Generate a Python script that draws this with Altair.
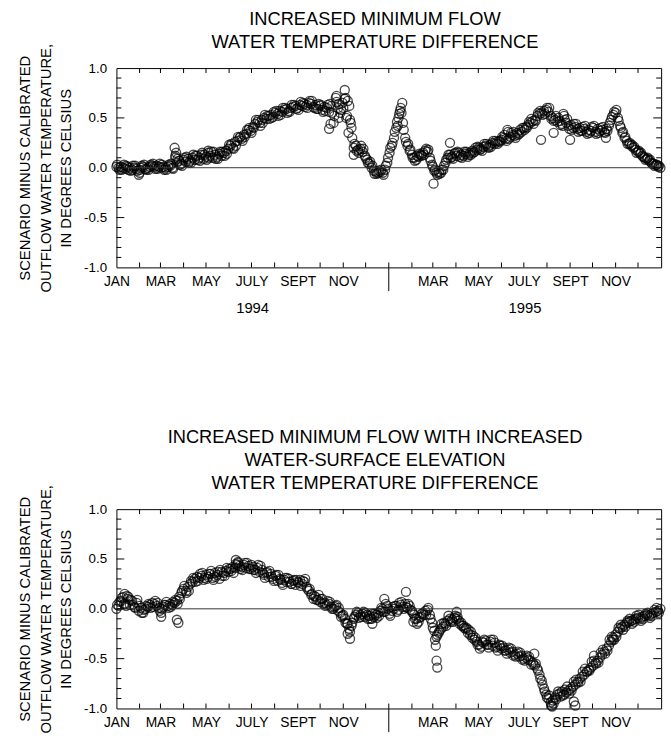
import altair as alt
import pandas as pd

FONT = "Liberation Sans"

# daily record thinned out, counted from 1 January 1994:
# pass A every 3 days, passes B and C every 6 days, interleaved
sample_days = list(range(0, 730, 3))
second_days = list(range(1, 730, 6))
third_days = list(range(4, 730, 6))

top_values = [
    0.01, 0.00, 0.01, 0.00, -0.01, 0.01, 0.00, -0.02, 0.00, -0.01,
    -0.07, 0.00, 0.01, -0.01, 0.00, 0.01, 0.02, 0.01, 0.02, 0.01,
    0.00, 0.01, 0.00, 0.01, 0.02, 0.00, 0.20, 0.05, 0.07, 0.04,
    0.08, 0.06, 0.09, 0.07, 0.10, 0.08, 0.12, 0.10, 0.13, 0.09,
    0.11, 0.15, 0.12, 0.10, 0.13, 0.11, 0.14, 0.12, 0.15, 0.17,
    0.19, 0.22, 0.20, 0.26, 0.27, 0.30, 0.29, 0.33, 0.34, 0.38,
    0.37, 0.41, 0.44, 0.46, 0.45, 0.48, 0.50, 0.49, 0.52, 0.53,
    0.51, 0.55, 0.54, 0.57, 0.56, 0.58, 0.59, 0.57, 0.60, 0.61,
    0.62, 0.60, 0.63, 0.62, 0.64, 0.63, 0.65, 0.64, 0.61, 0.63,
    0.59, 0.62, 0.58, 0.61, 0.60, 0.56, 0.62, 0.45, 0.70, 0.60,
    0.55, 0.65, 0.78, 0.52, 0.62, 0.40, 0.20, 0.22, 0.18, 0.19,
    0.16, 0.12, 0.08, 0.04, 0.00, -0.03, -0.04, -0.05, -0.04, -0.05,
    -0.02, 0.05, 0.15, 0.22, 0.30, 0.40, 0.50, 0.60, 0.45, 0.30,
    0.22, 0.17, 0.13, 0.10, 0.08, 0.11, 0.13, 0.15, 0.17, 0.16,
    0.10, 0.03, -0.03, -0.05, -0.04, -0.05, -0.02, 0.05, 0.10, 0.13,
    0.11, 0.14, 0.12, 0.15, 0.13, 0.12, 0.14, 0.11, 0.15, 0.17,
    0.16, 0.18, 0.20, 0.19, 0.21, 0.22, 0.21, 0.23, 0.25, 0.24,
    0.26, 0.27, 0.28, 0.30, 0.29, 0.36, 0.31, 0.33, 0.32, 0.35,
    0.34, 0.36, 0.40, 0.41, 0.43, 0.45, 0.47, 0.48, 0.52, 0.54,
    0.55, 0.57, 0.58, 0.56, 0.52, 0.50, 0.48, 0.46, 0.47, 0.44,
    0.52, 0.45, 0.42, 0.43, 0.40, 0.41, 0.39, 0.40, 0.37, 0.39,
    0.36, 0.38, 0.37, 0.40, 0.36, 0.39, 0.37, 0.38, 0.36, 0.39,
    0.42, 0.48, 0.53, 0.55, 0.50, 0.42, 0.35, 0.30, 0.27, 0.24,
    0.22, 0.20, 0.18, 0.16, 0.14, 0.12, 0.10, 0.09, 0.07, 0.05,
    0.04, 0.03, 0.01, 0.00,
]
top_second = [
    0.03, -0.02, 0.02, -0.03, 0.02, -0.02, 0.03, -0.02, 0.04, -0.01,
    0.03, -0.02, 0.04, 0.10, 0.03, 0.10, 0.05, 0.13, 0.08, 0.15,
    0.08, 0.16, 0.09, 0.16, 0.12, 0.23, 0.19, 0.31, 0.27, 0.38,
    0.35, 0.48, 0.42, 0.53, 0.49, 0.56, 0.52, 0.60, 0.55, 0.63,
    0.59, 0.66, 0.61, 0.67, 0.60, 0.64, 0.56, 0.63, 0.55, 0.66,
    0.58, 0.70, 0.48, 0.24, 0.15, 0.19, 0.05, 0.02, -0.06, -0.02,
    0.02, 0.20, 0.36, 0.54, 0.38, 0.24, 0.10, 0.12, 0.12, 0.19,
    0.07, -0.02, -0.06, 0.02, 0.13, 0.09, 0.16, 0.10, 0.16, 0.13,
    0.20, 0.18, 0.24, 0.20, 0.27, 0.24, 0.31, 0.27, 0.35, 0.30,
    0.38, 0.38, 0.46, 0.44, 0.55, 0.53, 0.60, 0.49, 0.52, 0.43,
    0.48, 0.39, 0.44, 0.36, 0.41, 0.34, 0.41, 0.34, 0.40, 0.35,
    0.45, 0.56, 0.47, 0.36, 0.24, 0.23, 0.15, 0.15, 0.08, 0.08,
    0.02, 0.02,
]
top_third = [
    -0.02, 0.03, -0.02, 0.02, -0.03, 0.02, -0.02, 0.03, -0.01, 0.04,
    -0.02, 0.03, -0.01, 0.09, 0.02, 0.11, 0.05, 0.12, 0.07, 0.13,
    0.10, 0.16, 0.09, 0.16, 0.14, 0.24, 0.22, 0.31, 0.31, 0.40,
    0.40, 0.48, 0.45, 0.52, 0.50, 0.57, 0.53, 0.60, 0.56, 0.63,
    0.58, 0.65, 0.60, 0.67, 0.59, 0.63, 0.57, 0.64, 0.52, 0.64,
    0.60, 0.67, 0.30, 0.17, 0.22, 0.10, 0.06, -0.06, -0.03, -0.07,
    0.10, 0.25, 0.46, 0.55, 0.26, 0.18, 0.07, 0.14, 0.13, 0.18,
    0.01, -0.07, -0.02, 0.08, 0.10, 0.15, 0.11, 0.16, 0.13, 0.15,
    0.21, 0.17, 0.24, 0.21, 0.27, 0.26, 0.33, 0.29, 0.36, 0.33,
    0.40, 0.40, 0.49, 0.47, 0.57, 0.54, 0.60, 0.47, 0.50, 0.42,
    0.49, 0.38, 0.44, 0.37, 0.42, 0.35, 0.42, 0.35, 0.41, 0.37,
    0.51, 0.58, 0.40, 0.31, 0.25, 0.21, 0.17, 0.11, 0.10, 0.04,
    0.03,
]
top_extra_days = [31, 79, 80, 123, 285, 287, 295, 298, 306, 308, 311, 314,
                  318, 377, 380, 383, 425, 447, 524, 569, 586, 599, 608, 656]
top_extra_values = [-0.05, 0.12, 0.15, 0.17, 0.39, 0.44, 0.72, 0.50, 0.69, 0.50,
                    0.35, 0.45, 0.13, 0.42, 0.57, 0.65, -0.16, 0.25, 0.38, 0.28,
                    0.35, 0.54, 0.28, 0.30]

bottom_values = [
    0.00, 0.03, 0.08, 0.12, 0.05, 0.10, 0.04, 0.08, 0.02, 0.06,
    -0.02, 0.01, -0.04, 0.00, 0.02, 0.04, 0.06, 0.05, 0.03, 0.01,
    -0.04, 0.02, 0.04, 0.03, 0.05, 0.04, 0.06, 0.08, 0.12, 0.16,
    0.20, 0.18, 0.22, 0.25, 0.27, 0.30, 0.32, 0.31, 0.33, 0.29,
    0.34, 0.32, 0.35, 0.31, 0.36, 0.34, 0.30, 0.37, 0.36, 0.38,
    0.37, 0.40, 0.42, 0.41, 0.44, 0.43, 0.42, 0.44, 0.41, 0.43,
    0.40, 0.42, 0.39, 0.41, 0.37, 0.39, 0.34, 0.36, 0.32, 0.35,
    0.30, 0.33, 0.28, 0.30, 0.26, 0.29, 0.27, 0.30, 0.25, 0.28,
    0.24, 0.27, 0.29, 0.25, 0.27, 0.22, 0.18, 0.14, 0.10, 0.12,
    0.09, 0.07, 0.10, 0.06, 0.04, 0.05, 0.02, 0.00, 0.03, -0.02,
    -0.04, -0.07, -0.10, -0.15, -0.20, -0.17, -0.10, -0.06, -0.04, -0.06,
    -0.05, -0.08, -0.06, -0.07, -0.10, -0.08, -0.06, -0.04, -0.02, 0.00,
    -0.03, 0.03, -0.05, -0.02, 0.00, 0.03, -0.01, 0.04, 0.02, 0.05,
    0.01, 0.03, -0.02, -0.06, -0.10, -0.13, -0.08, -0.04, -0.02, -0.01,
    -0.06, -0.14, -0.22, -0.28, -0.24, -0.20, -0.18, -0.15, -0.12, -0.10,
    -0.11, -0.09, -0.10, -0.12, -0.14, -0.17, -0.20, -0.24, -0.26, -0.29,
    -0.31, -0.33, -0.36, -0.38, -0.34, -0.32, -0.36, -0.33, -0.37, -0.34,
    -0.38, -0.36, -0.40, -0.39, -0.42, -0.41, -0.44, -0.43, -0.46, -0.45,
    -0.48, -0.47, -0.50, -0.49, -0.51, -0.52, -0.54, -0.57, -0.60, -0.66,
    -0.72, -0.80, -0.86, -0.90, -0.94, -0.92, -0.89, -0.86, -0.85, -0.83,
    -0.86, -0.84, -0.82, -0.80, -0.78, -0.76, -0.73, -0.70, -0.68, -0.66,
    -0.63, -0.61, -0.59, -0.57, -0.54, -0.52, -0.49, -0.46, -0.43, -0.40,
    -0.37, -0.33, -0.29, -0.26, -0.23, -0.20, -0.18, -0.16, -0.14, -0.13,
    -0.12, -0.11, -0.10, -0.09, -0.10, -0.08, -0.07, -0.06, -0.07, -0.05,
    -0.04, -0.03, -0.02, 0.00,
]
bottom_second = [
    0.04, 0.11, 0.03, 0.09, 0.01, 0.03, -0.01, 0.05, 0.02, 0.06,
    0.00, 0.07, 0.02, 0.09, 0.10, 0.23, 0.18, 0.31, 0.28, 0.36,
    0.30, 0.38, 0.32, 0.39, 0.33, 0.40, 0.36, 0.46, 0.39, 0.46,
    0.44, 0.36, 0.43, 0.31, 0.38, 0.28, 0.34, 0.24, 0.31, 0.25,
    0.29, 0.23, 0.30, 0.20, 0.13, 0.14, 0.05, 0.08, 0.00, 0.04,
    -0.08, -0.14, -0.23, -0.08, -0.09, -0.03, -0.10, -0.05, -0.09, 0.01,
    0.05, -0.07, 0.03, 0.06, 0.00, 0.05, -0.04, -0.15, -0.05, -0.06,
    -0.10, -0.31, -0.22, -0.14, -0.07, -0.13, -0.08, -0.17, -0.19, -0.23,
    -0.29, -0.40, -0.31, -0.39, -0.31, -0.42, -0.37, -0.45, -0.40, -0.48,
    -0.44, -0.52, -0.48, -0.56, -0.62, -0.76, -0.89, -0.97, -0.91, -0.88,
    -0.81, -0.85, -0.73, -0.74, -0.63, -0.63, -0.53, -0.55, -0.44, -0.45,
    -0.31, -0.31, -0.19, -0.21, -0.12, -0.15, -0.07, -0.12, -0.05, -0.09,
    -0.01, -0.04,
]
bottom_third = [
    0.07, 0.05, 0.12, 0.04, 0.09, -0.04, 0.03, 0.01, 0.08, -0.02,
    0.04, 0.01, 0.07, 0.05, 0.18, 0.16, 0.28, 0.27, 0.35, 0.31,
    0.35, 0.29, 0.37, 0.33, 0.41, 0.38, 0.45, 0.40, 0.46, 0.40,
    0.39, 0.44, 0.36, 0.37, 0.32, 0.34, 0.29, 0.31, 0.27, 0.29,
    0.26, 0.28, 0.20, 0.15, 0.09, 0.10, 0.03, 0.07, 0.02, 0.01,
    -0.06, -0.15, -0.14, -0.03, -0.08, -0.04, -0.10, -0.05, -0.07, -0.03,
    0.00, 0.02, -0.03, 0.07, 0.02, -0.01, -0.10, -0.09, -0.06, 0.01,
    -0.19, -0.26, -0.15, -0.17, -0.13, -0.07, -0.15, -0.19, -0.21, -0.27,
    -0.36, -0.33, -0.36, -0.31, -0.39, -0.37, -0.42, -0.39, -0.47, -0.43,
    -0.51, -0.47, -0.56, -0.55, -0.70, -0.83, -0.87, -0.95, -0.83, -0.87,
    -0.78, -0.82, -0.71, -0.73, -0.60, -0.62, -0.52, -0.54, -0.41, -0.42,
    -0.28, -0.28, -0.16, -0.18, -0.10, -0.13, -0.06, -0.10, -0.04, -0.07,
    0.01,
]
bottom_extra_days = [11, 14, 60, 81, 83, 160, 163, 310, 313, 343, 359, 388,
                     398, 428, 429, 430, 456, 560, 584, 613, 615, 640, 665]
bottom_extra_values = [0.15, 0.13, -0.08, -0.11, -0.14, 0.49, 0.47, -0.25, -0.30,
                       -0.15, 0.10, 0.17, -0.13, -0.37, -0.52, -0.59, -0.03,
                       -0.45, -0.98, -0.93, -0.97, -0.47, -0.31]

top_title = ["INCREASED MINIMUM FLOW", "WATER TEMPERATURE DIFFERENCE"]
bottom_title = ["INCREASED MINIMUM FLOW WITH INCREASED",
                "WATER-SURFACE ELEVATION",
                "WATER TEMPERATURE DIFFERENCE"]
y_title = ["SCENARIO MINUS CALIBRATED", "OUTFLOW WATER TEMPERATURE,",
           "IN DEGREES CELSIUS"]

month_start_days = [31, 59, 90, 120, 151, 181, 212, 243, 273, 304, 334, 365,
                    396, 424, 455, 485, 516, 546, 577, 608, 638, 669, 699]
label_days = [0, 59, 120, 181, 243, 304, 424, 485, 546, 608, 669]
label_names = ["JAN", "MAR", "MAY", "JULY", "SEPT", "NOV",
               "MAR", "MAY", "JULY", "SEPT", "NOV"]
year_names = ["1994", "1995"]
year_mid_days = [182.5, 547.5]
year_break_days = [365]
y_labels = [-1.0, -0.5, 0.0, 0.5, 1.0]
y_major_ticks = [-0.5, 0.0, 0.5]
y_minor_ticks = [-0.9, -0.8, -0.7, -0.6, -0.4, -0.3, -0.2, -0.1,
                 0.1, 0.2, 0.3, 0.4, 0.6, 0.7, 0.8, 0.9]

W, H = 552, 202
x_scale = alt.Scale(domain=[0, 730], nice=False, zero=False)
y_scale = alt.Scale(domain=[-1, 1], nice=False)

label_expr = "".join(
    f"datum.value == {d} ? '{n}' : " for d, n in zip(label_days, label_names)
) + "''"


def panel(values, second, third, extra_days, extra_values, title_lines,
          show_years):
    df = pd.DataFrame({
        "day": sample_days + second_days + third_days + extra_days,
        "diff": values + second + third + extra_values,
    })
    x_axis = alt.Axis(values=label_days, labelExpr=label_expr, ticks=False,
                      domain=False, grid=False, labelFont=FONT,
                      labelFontSize=14, labelColor="black", labelPadding=7,
                      labelFlush=False, labelOverlap=False, title=None)
    y_axis = alt.Axis(values=y_labels,
                      labelExpr="replace(format(datum.value, '.1f'), '\u2212', '-')",
                      ticks=False, domain=False, grid=False, labelFont=FONT,
                      labelFontSize=13.5, labelColor="black", labelPadding=10,
                      labelFlush=False, labelOverlap=False,
                      title=y_title, titleFont=FONT, titleFontSize=15,
                      titleFontWeight="normal", titleColor="black",
                      titleLineHeight=21, titlePadding=10)
    points = alt.Chart(df).mark_point(
        shape="circle", filled=False, color="#000000", strokeWidth=1.35,
        size=84
    ).encode(
        x=alt.X("day:Q", scale=x_scale, axis=x_axis),
        y=alt.Y("diff:Q", scale=y_scale, axis=y_axis),
    )
    zero = alt.Chart(pd.DataFrame({"diff": [0.0]})).mark_rule(
        color="#333333", strokeWidth=1
    ).encode(y=alt.Y("diff:Q", scale=y_scale))

    months = pd.DataFrame({"day": month_start_days})
    bottom_ticks = alt.Chart(months).mark_rule(color="black").encode(
        x=alt.X("day:Q", scale=x_scale), y=alt.value(H), y2=alt.value(H - 5))
    top_ticks = alt.Chart(months).mark_rule(color="black").encode(
        x=alt.X("day:Q", scale=x_scale), y=alt.value(0), y2=alt.value(5))
    minor = pd.DataFrame({"diff": y_minor_ticks})
    major = pd.DataFrame({"diff": y_major_ticks})
    left_minor = alt.Chart(minor).mark_rule(color="black").encode(
        y=alt.Y("diff:Q", scale=y_scale), x=alt.value(0), x2=alt.value(5))
    right_minor = alt.Chart(minor).mark_rule(color="black").encode(
        y=alt.Y("diff:Q", scale=y_scale), x=alt.value(W), x2=alt.value(W - 5))
    left_major = alt.Chart(major).mark_rule(color="black").encode(
        y=alt.Y("diff:Q", scale=y_scale), x=alt.value(0), x2=alt.value(8))
    right_major = alt.Chart(major).mark_rule(color="black").encode(
        y=alt.Y("diff:Q", scale=y_scale), x=alt.value(W), x2=alt.value(W - 8))
    divider = alt.Chart(pd.DataFrame({"day": year_break_days})).mark_rule(
        color="black").encode(
        x=alt.X("day:Q", scale=x_scale), y=alt.value(H), y2=alt.value(H + 24))

    layers = [points, zero, bottom_ticks, top_ticks, left_minor, right_minor,
              left_major, right_major, divider]
    if show_years:
        years = alt.Chart(pd.DataFrame({"day": year_mid_days,
                                        "name": year_names})).mark_text(
            font=FONT, fontSize=15, color="black", baseline="middle"
        ).encode(x=alt.X("day:Q", scale=x_scale), y=alt.value(H + 41),
                 text="name:N")
        layers.append(years)

    return alt.layer(*layers).properties(
        width=W, height=H,
        title=alt.TitleParams(text=title_lines, font=FONT, fontSize=18.5,
                              fontWeight="normal", color="black",
                              lineHeight=23, anchor="middle", frame="group",
                              dx=-14, offset=-8),
    )


top = panel(top_values, top_second, top_third, top_extra_days,
            top_extra_values, top_title, True)
bottom = panel(bottom_values, bottom_second, bottom_third, bottom_extra_days,
               bottom_extra_values, bottom_title, False)

chart = alt.vconcat(top, bottom, spacing=112).properties(
    padding={"left": 17, "top": 4, "right": 2, "bottom": 4},
    background="white",
).configure_view(stroke="black", strokeWidth=1)

chart.save("out.html", embed_options={"renderer": "svg", "actions": False})
